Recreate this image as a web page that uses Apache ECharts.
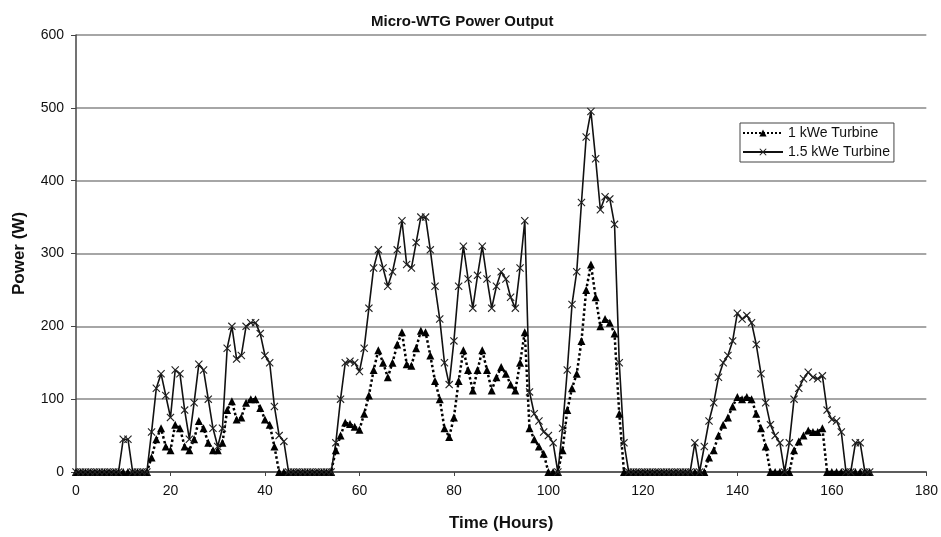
<!DOCTYPE html>
<html>
<head>
<meta charset="utf-8">
<script src="https://cdn.jsdelivr.net/npm/echarts@6/dist/echarts.min.js"></script>
<style>
  html, body { margin: 0; padding: 0; background: #fff; }
  #chart { width: 941px; height: 537px; }
</style>
</head>
<body>
<div id="chart"></div>
<script>
// hourly readings, hour 0 .. 168
const hours = Array.from({length: 169}, (_, i) => i)

// 1 kWe turbine (lower trace)
const turbine1 = [
  0, 0, 0, 0, 0, 0, 0, 0, 0, 0,                     // 0-9
  0, 0, 0, 0, 0, 0, 20, 45, 60, 35,                 // 10-19
  30, 65, 60, 35, 30, 45, 70, 60, 40, 30,           // 20-29
  30, 40, 85, 97, 72, 75, 95, 100, 100, 88,         // 30-39
  72, 65, 35, 0, 0, 0, 0, 0, 0, 0,                  // 40-49
  0, 0, 0, 0, 0, 30, 50, 68, 66, 62,                // 50-59
  58, 80, 105, 140, 167, 150, 130, 150, 175, 192,   // 60-69
  148, 146, 170, 194, 192, 160, 125, 100, 60, 48,   // 70-79
  75, 125, 167, 140, 112, 140, 167, 140, 112, 130,  // 80-89
  144, 135, 120, 112, 150, 192, 60, 45, 35, 25,     // 90-99
  0, 0, 0, 30, 85, 115, 135, 180, 250, 285,         // 100-109
  240, 200, 210, 205, 190, 80, 0, 0, 0, 0,          // 110-119
  0, 0, 0, 0, 0, 0, 0, 0, 0, 0,                     // 120-129
  0, 0, 0, 0, 20, 30, 50, 65, 75, 90,               // 130-139
  103, 100, 103, 100, 80, 60, 35, 0, 0, 0,          // 140-149
  0, 0, 30, 42, 50, 57, 55, 55, 60, 0,              // 150-159
  0, 0, 0, 0, 0, 0, 0, 0, 0                         // 160-168
]

// 1.5 kWe turbine (upper trace)
const turbine15 = [
  0, 0, 0, 0, 0, 0, 0, 0, 0, 0,                     // 0-9
  45, 45, 0, 0, 0, 0, 55, 115, 135, 105,            // 10-19
  75, 140, 135, 85, 45, 95, 148, 140, 100, 60,      // 20-29
  35, 60, 170, 200, 155, 160, 200, 205, 205, 190,   // 30-39
  160, 150, 90, 50, 42, 0, 0, 0, 0, 0,              // 40-49
  0, 0, 0, 0, 0, 40, 100, 150, 152, 150,            // 50-59
  138, 170, 225, 280, 305, 280, 255, 275, 305, 345, // 60-69
  285, 280, 315, 350, 350, 305, 255, 210, 150, 120, // 70-79
  180, 255, 310, 265, 225, 270, 310, 265, 225, 255, // 80-89
  275, 265, 240, 225, 280, 345, 110, 80, 70, 55,    // 90-99
  50, 40, 0, 60, 140, 230, 275, 370, 460, 495,      // 100-109
  430, 360, 378, 375, 340, 150, 40, 0, 0, 0,        // 110-119
  0, 0, 0, 0, 0, 0, 0, 0, 0, 0,                     // 120-129
  0, 40, 0, 35, 70, 95, 130, 150, 160, 180,         // 130-139
  218, 210, 215, 205, 175, 135, 95, 65, 50, 40,     // 140-149
  0, 40, 100, 115, 128, 137, 130, 128, 132, 85,     // 150-159
  72, 70, 55, 0, 0, 40, 40, 0, 0                    // 160-168
]

const seriesNames = ['1 kWe Turbine', '1.5 kWe Turbine']

const FONT = 'Liberation Sans, Arial, sans-serif'
const CROSS = 'path://M0,1L1,0L5,4L9,0L10,1L6,5L10,9L9,10L5,6L1,10L0,9L4,5Z'

const pairs = arr => hours.map((h, i) => [h, arr[i]])

const chart = echarts.init(document.getElementById('chart'), null, {renderer: 'canvas'})

chart.setOption({
  animation: false,
  backgroundColor: '#fff',
  title: {
    text: 'Micro-WTG Power Output',
    left: 366,
    top: 9,
    textStyle: {fontFamily: FONT, fontSize: 15, fontWeight: 'bold', color: '#111'},
  },
  legend: {
    orient: 'vertical',
    left: 740,
    top: 123,
    padding: [3, 4, 3, 2],
    itemWidth: 40,
    itemHeight: 9,
    itemGap: 5,
    borderColor: '#444',
    borderWidth: 1,
    backgroundColor: '#fff',
    data: seriesNames,
    textStyle: {fontFamily: FONT, fontSize: 14, color: '#111'},
  },
  grid: {left: 76, right: 14, top: 35, bottom: 65},
  xAxis: {
    type: 'value',
    min: 0,
    max: 180,
    interval: 20,
    name: 'Time (Hours)',
    nameLocation: 'middle',
    nameGap: 43,
    nameTextStyle: {fontFamily: FONT, fontSize: 17, fontWeight: 'bold', color: '#111'},
    axisLine: {lineStyle: {color: '#444', width: 1.5}},
    axisTick: {show: true, length: 4, lineStyle: {color: '#444'}},
    axisLabel: {fontFamily: FONT, fontSize: 14, color: '#111', margin: 12},
    splitLine: {show: false},
  },
  yAxis: {
    type: 'value',
    min: 0,
    max: 600,
    interval: 100,
    name: 'Power (W)',
    nameLocation: 'middle',
    nameGap: 48,
    nameTextStyle: {fontFamily: FONT, fontSize: 17, fontWeight: 'bold', color: '#111'},
    axisLine: {show: true, lineStyle: {color: '#444', width: 1.5}},
    axisTick: {show: true, length: 5, lineStyle: {color: '#444'}},
    axisLabel: {fontFamily: FONT, fontSize: 14, color: '#111', margin: 12},
    splitLine: {lineStyle: {color: '#888', width: 1.5}},
  },
  series: [
    {
      name: seriesNames[0],
      type: 'line',
      data: pairs(turbine1),
      symbol: 'triangle',
      symbolSize: 8,
      showAllSymbol: true,
      lineStyle: {color: '#000', width: 2.5, type: 'dotted'},
      itemStyle: {color: '#000'},
      silent: true,
    },
    {
      name: seriesNames[1],
      type: 'line',
      data: pairs(turbine15),
      symbol: CROSS,
      symbolSize: 8,
      showAllSymbol: true,
      lineStyle: {color: '#111', width: 1.6},
      itemStyle: {color: '#222'},
      silent: true,
    },
  ],
})
</script>
</body>
</html>
